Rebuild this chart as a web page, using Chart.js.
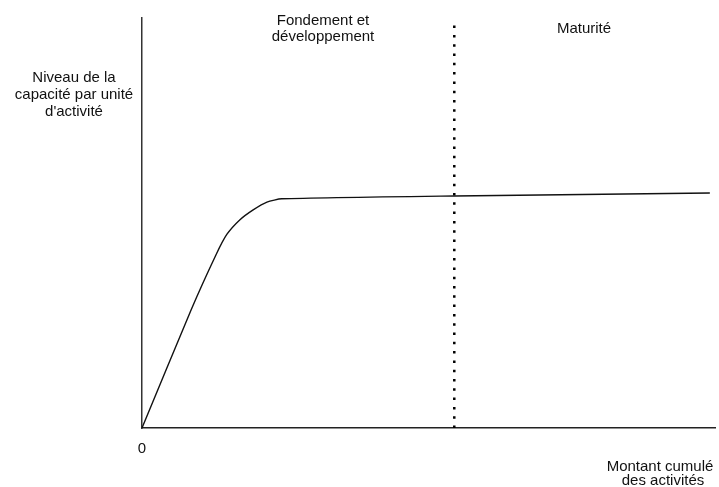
<!DOCTYPE html>
<html>
<head>
<meta charset="utf-8">
<script src="https://cdn.jsdelivr.net/npm/chart.js@4/dist/chart.umd.min.js"></script>
<style>
  html, body { margin: 0; padding: 0; background: #fff; }
  #wrap { width: 719px; height: 487px; }
</style>
</head>
<body>
<div id="wrap"><canvas id="capChart" width="719" height="487"></canvas></div>
<script>
// curve: cumulative activity (x) vs capability per unit (y), 0..100 scale
var curve_x = [0, 8.6, 12.9, 14.8, 17.1, 19.4, 21.8, 24.4, 54.5, 99.1];
var curve_y = [0, 28.9, 42.2, 47.2, 50.8, 53.2, 55.1, 55.9, 56.6, 57.3];

// phase boundary
var phase_x = 54.5;
var phase_labels = [["Fondement et", "développement"], ["Maturité"]];

var y_title = ["Niveau de la", "capacité par unité", "d'activité"];
var x_title = ["Montant cumulé", "des activités"];
var origin_label = "0";

var curve_pts = curve_x.map(function(x, i){
  return {x: x, y: curve_y[i]};
});

var textPlugin = {
  id: 'textPlugin',
  afterDraw: function(chart){
    var ctx = chart.ctx;
    var xs = chart.scales.x;
    ctx.save();
    ctx.fillStyle = '#111';
    ctx.font = '15px "Liberation Sans", Arial, sans-serif';
    ctx.textAlign = 'center';
    ctx.textBaseline = 'middle';

    // phase headings
    ctx.fillText(phase_labels[0][0], 323, 21);
    ctx.fillText(phase_labels[0][1], 323, 37);
    ctx.fillText(phase_labels[1][0], 584, 29);

    // y title left of axis
    for(var i = 0; i < y_title.length; i++){
      ctx.fillText(y_title[i], 74, 78 + i * 17);
    }

    // origin
    ctx.fillText(origin_label, xs.getPixelForValue(0), 449);

    // x title bottom right
    ctx.fillText(x_title[0], 660, 467);
    ctx.fillText(x_title[1], 663, 481);
    ctx.restore();
  }
};

var ctx = document.getElementById("capChart").getContext('2d');

var config = {
  type: 'line',
  data: {
    datasets: [{
      label: 'capacité',
      data: curve_pts,
      borderColor: '#111',
      borderWidth: 1.4,
      pointRadius: 0,
      fill: false,
      tension: 0.2
    },{
      label: 'phase',
      data: [{x: phase_x, y: 0}, {x: phase_x, y: 99}],
      borderColor: '#000',
      borderWidth: 2.5,
      borderDash: [2.5, 6.8],
      borderCapStyle: 'butt',
      pointRadius: 0,
      fill: false
    }]
  },
  options: {
    responsive: false,
    animation: false,
    clip: false,
    layout: { padding: {left: 134, right: 4, top: 18, bottom: 51} },
    plugins: { legend: {display: false}, tooltip: {enabled: false} },
    scales: {
      x: {
        type: 'linear', min: 0, max: 100,
        grid: {display: false},
        ticks: {display: false},
        border: {display: true, color: '#222', width: 1.5}
      },
      y: {
        type: 'linear', min: 0, max: 100,
        grid: {display: false},
        ticks: {display: false},
        border: {display: true, color: '#333', width: 1.5}
      }
    }
  },
  plugins: [textPlugin]
};

var capChart = new Chart(ctx, config);
</script>
</body>
</html>
